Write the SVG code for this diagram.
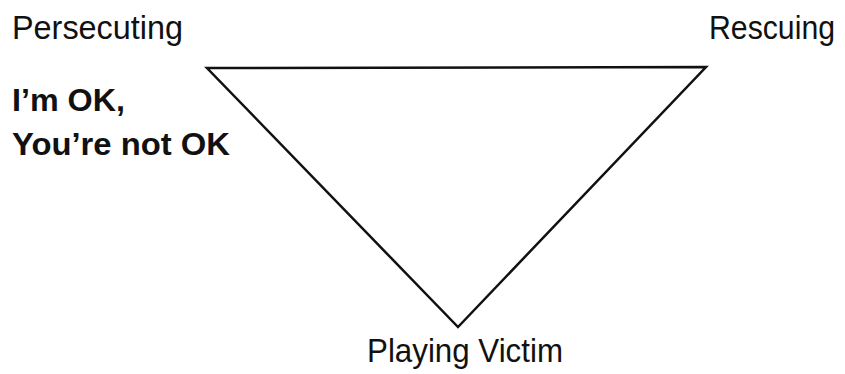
<svg xmlns="http://www.w3.org/2000/svg" width="845" height="374" viewBox="0 0 845 374">
<style>
.lbl{font-family:"Liberation Sans",Arial,sans-serif;font-size:33px;fill:#111}
.b{font-weight:bold;font-size:32px}
.edge{fill:none;stroke:#111;stroke-width:2.5;stroke-linejoin:miter}
</style>
<rect width="845" height="374" fill="#fff"/>
<g id="connectors">
<polygon class="edge" points="207,68 706,67 458,327"/>
</g>
<g id="persecuting"><text class="lbl" x="12" y="39" textLength="171" lengthAdjust="spacingAndGlyphs">Persecuting</text></g>
<g id="rescuing"><text class="lbl" x="709" y="39" textLength="126" lengthAdjust="spacingAndGlyphs">Rescuing</text></g>
<g id="victim"><text class="lbl" x="367" y="362" textLength="196" lengthAdjust="spacingAndGlyphs">Playing Victim</text></g>
<g id="ok"><text class="lbl b" x="12" y="111" textLength="113" lengthAdjust="spacingAndGlyphs">I’m OK,</text><text class="lbl b" x="12" y="155" textLength="218" lengthAdjust="spacingAndGlyphs">You’re not OK</text></g>
</svg>
